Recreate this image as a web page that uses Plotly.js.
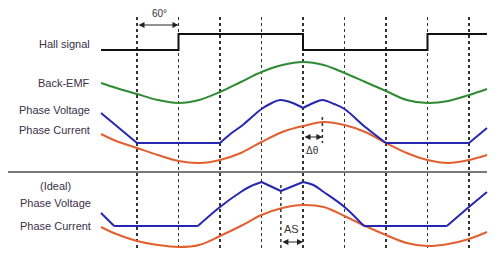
<!DOCTYPE html>
<html>
<head>
<meta charset="utf-8">
<script src="https://cdn.plot.ly/plotly-3.0.1.min.js"></script>
<style>
html,body{margin:0;padding:0;background:#fff;}
#chart{width:500px;height:267px;}
</style>
</head>
<body>
<div id="chart"></div>
<script>
// Electrical angle (degrees) of the dashed reference lines
const gridDeg = [0, 60, 120, 180, 240, 300, 360, 420, 480];

// Hall signal (levels in chart units)
const hallX = [-52, 60, 60, 240, 240, 420, 420, 506];
const hallY = [200, 200, 216, 216, 200, 200, 216, 216];

// Back-EMF
const bemfX = [-52, -30, 0, 30, 60, 90, 120, 150, 180, 210, 240, 270, 300, 330, 360, 390, 420, 450, 480, 506];
const bemfY = [167, 162, 156, 150, 147, 150, 158, 168, 178, 185, 188, 185, 177, 168, 159, 150, 147, 149, 155, 161];

// Real phase voltage (top)
const pvX = [-52, 0, 120, 135, 153, 180, 195, 207, 225, 240, 255, 268, 285, 300, 330, 360, 480, 506];
const pvY = [137, 107, 107, 116, 125, 141, 147, 150, 147, 142, 147, 150, 146, 141, 123, 107, 107, 122];
const pvCorners = [0, 120, 240, 360, 480];

// Real phase current (top)
const pcX = [-52, -30, 0, 30, 60, 90, 120, 150, 180, 210, 240, 270, 300, 330, 360, 390, 420, 450, 480, 506];
const pcY = [116, 109, 102, 95, 89, 87, 90, 97, 108, 118, 124, 128, 125, 118, 107, 97, 90, 87, 90, 95];

// Ideal phase voltage (bottom)
const ipvX = [-52, -33, 88, 120, 150, 165, 180, 208, 240, 255, 270, 300, 328, 448, 480, 506];
const ipvY = [37, 24, 24, 43, 58, 64, 68, 59, 68, 65, 58, 43, 24, 24, 43, 58];
const ipvCorners = [-33, 88, 180, 208, 240, 328, 448];

// Ideal phase current (bottom)
const ipcX = [-52, -30, 0, 30, 60, 90, 120, 150, 180, 210, 240, 270, 300, 330, 360, 390, 420, 450, 480, 506];
const ipcY = [23, 16, 9, 5, 3, 5, 14, 24, 35, 42, 45, 43, 34, 24, 15, 7, 4, 6, 11, 18];

// Annotated angles
const deltaTheta = [240, 268];
const advanceAS = [208, 240];
const sixty = [0, 60];

const labelsLeft = [
  {text: 'Hall signal', y: 206},
  {text: 'Back-EMF', y: 167},
  {text: 'Phase Voltage', y: 140},
  {text: 'Phase Current', y: 120}
];
const labelsIdeal = [
  {text: '(Ideal)', y: 64},
  {text: 'Phase Voltage', y: 47},
  {text: 'Phase Current', y: 24}
];

const BLACK = '#111111', GREEN = '#2e8b34', BLUE = '#2626b0', ORANGE = '#e2602f';
const TXT = '#3a3048';
const FONT = 'Liberation Sans, Arial, sans-serif';
const Y_TOP = 233;

function pieces(xs, ys, corners, color) {
  const out = [];
  let cur = {x: [], y: []};
  for (let i = 0; i < xs.length; i++) {
    cur.x.push(xs[i]); cur.y.push(ys[i]);
    if (corners.includes(xs[i]) && i > 0 && i < xs.length - 1) {
      out.push(cur);
      cur = {x: [xs[i]], y: [ys[i]]};
    }
  }
  out.push(cur);
  return out.map(p => ({
    x: p.x, y: p.y, mode: 'lines', hoverinfo: 'skip', showlegend: false,
    line: {color: color, width: 2, shape: p.x.length > 2 ? 'spline' : 'linear', smoothing: 1}
  }));
}

const traces = [];
traces.push({x: hallX, y: hallY, mode: 'lines', showlegend: false, hoverinfo: 'skip', line: {color: BLACK, width: 2}});
traces.push(...pieces(bemfX, bemfY, [], GREEN));
traces.push(...pieces(pcX, pcY, [], ORANGE));
traces.push(...pieces(pvX, pvY, pvCorners, BLUE));
traces.push(...pieces(ipcX, ipcY, [], ORANGE));
traces.push(...pieces(ipvX, ipvY, ipvCorners, BLUE));
// short dashed markers
traces.push({x: [deltaTheta[1], deltaTheta[1]], y: [133, 107], mode: 'lines', showlegend: false, hoverinfo: 'skip', line: {color: '#333', width: 1.5, dash: 'dot'}});
traces.push({x: [advanceAS[0], advanceAS[0]], y: [65, 0], mode: 'lines', showlegend: false, hoverinfo: 'skip', line: {color: '#333', width: 1.5, dash: 'dot'}});

function dblArrow(a, b, y) {
  return {x: b, y: y, ax: a, ay: y, xref: 'x', yref: 'y', axref: 'x', ayref: 'y', text: '',
    showarrow: true, arrowside: 'end+start', arrowhead: 2, arrowsize: 1, arrowwidth: 1.2,
    arrowcolor: '#222', standoff: 0, startstandoff: 0};
}

const annotations = [];
labelsLeft.forEach(l => annotations.push({x: -65, y: l.y, xref: 'x', yref: 'y', text: l.text, showarrow: false,
  xanchor: 'right', yanchor: 'middle', font: {family: FONT, size: 11, color: TXT}}));
labelsIdeal.forEach(l => annotations.push({x: -118, y: l.y, xref: 'x', yref: 'y', text: l.text, showarrow: false,
  xanchor: 'center', yanchor: 'middle', font: {family: FONT, size: 11, color: TXT}}));
annotations.push(dblArrow(sixty[0], sixty[1], 225));
annotations.push({x: 32, y: 236 / Y_TOP, xref: 'x', yref: 'paper', text: '60°', showarrow: false, yanchor: 'middle',
  font: {family: FONT, size: 10, color: '#333'}});
annotations.push(dblArrow(deltaTheta[0], deltaTheta[1], 113));
annotations.push({x: 254, y: 100, xref: 'x', yref: 'y', text: 'Δθ', showarrow: false, font: {family: FONT, size: 10, color: '#333'}});
annotations.push(dblArrow(advanceAS[0], advanceAS[1], 8));
annotations.push({x: 223, y: 21, xref: 'x', yref: 'y', text: 'AS', showarrow: false, font: {family: FONT, size: 11, color: '#333'}});

const layout = {
  width: 500, height: 267,
  margin: {l: 0, r: 0, t: 17, b: 17, pad: 0},
  paper_bgcolor: '#ffffff', plot_bgcolor: '#ffffff',
  showlegend: false,
  xaxis: {range: [-198.07, 524.82], tickmode: 'array', tickvals: gridDeg, showticklabels: false, ticks: '',
    showgrid: true, gridcolor: '#333333', gridwidth: 1.5, griddash: 'dot', zeroline: false, showline: false, fixedrange: true},
  yaxis: {range: [0, Y_TOP], showgrid: false, zeroline: false, showticklabels: false, ticks: '', showline: false, fixedrange: true},
  shapes: [{type: 'line', xref: 'x', yref: 'y', x0: -186.5, x1: 506, y0: 78, y1: 78, line: {color: '#7a7a7a', width: 2}, layer: 'below'}],
  annotations: annotations
};

Plotly.newPlot('chart', traces, layout, {staticPlot: true, displayModeBar: false});
</script>
</body>
</html>
